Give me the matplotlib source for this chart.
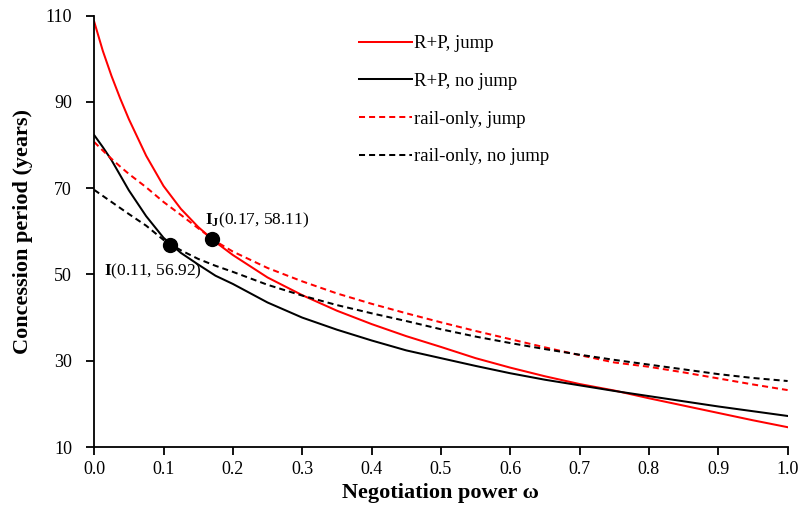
import matplotlib
matplotlib.use("Agg")
import matplotlib.pyplot as plt
import numpy as np

plt.rcParams['font.family'] = ['Liberation Serif', 'DejaVu Serif']
plt.rcParams['mathtext.fontset'] = 'custom'
plt.rcParams['mathtext.rm'] = 'Liberation Serif'
plt.rcParams['mathtext.bf'] = 'Liberation Serif:bold'

omega = [0.0, 0.0125, 0.025, 0.0375, 0.05, 0.075, 0.10, 0.125, 0.15, 0.175, 0.20, 0.25, 0.30,
         0.35, 0.40, 0.45, 0.50, 0.55, 0.60, 0.65, 0.70, 0.75, 0.80, 0.85,
         0.90, 0.95, 1.00]

rp_jump = [108.6, 101.8, 96.0, 90.8, 86.0, 77.5, 70.5, 65.2, 61.0, 57.5, 54.5, 49.3, 45.2,
           41.6, 38.5, 35.7, 33.2, 30.6, 28.4, 26.4, 24.6, 23.1, 21.3, 19.6,
           17.9, 16.2, 14.6]
rp_nojump = [82.3, 79.5, 76.5, 73.0, 69.5, 63.5, 58.5, 55.0, 52.3, 49.7, 47.8, 43.5, 40.0,
             37.2, 34.7, 32.4, 30.6, 28.8, 27.1, 25.6, 24.3, 23.0, 21.8, 20.6,
             19.4, 18.3, 17.2]
rail_jump = [80.7, 78.7, 76.8, 75.0, 73.3, 70.2, 66.8, 63.8, 60.7, 57.7, 55.3, 51.5, 48.4,
             45.6, 43.2, 41.0, 38.9, 36.9, 35.0, 33.1, 31.3, 29.6, 28.6, 27.3,
             25.9, 24.5, 23.2]
rail_nojump = [69.6, 68.2, 66.8, 65.4, 64.0, 61.3, 58.0, 55.6, 53.6, 52.0, 50.6, 47.6, 45.1,
               42.9, 41.0, 39.2, 37.3, 35.6, 34.1, 32.7, 31.4, 30.2, 29.1, 28.0,
               26.9, 26.0, 25.3]

points_x = [0.11, 0.17]
points_y = [56.92, 58.11]

xticks = [0.0, 0.1, 0.2, 0.3, 0.4, 0.5, 0.6, 0.7, 0.8, 0.9, 1.0]
yticks = [10, 30, 50, 70, 90, 110]

fig = plt.figure(figsize=(7.98, 5.18), dpi=100)
ax = fig.add_axes([0.118, 0.137, 0.869, 0.833])

lw = 1.45
ax.plot(omega, rp_jump, color='#ff0000', lw=lw, label='R+P, jump')
ax.plot(omega, rp_nojump, color='black', lw=lw, label='R+P, no jump')
ax.plot(omega, rail_jump, color='#ff0000', lw=lw, ls=(0, (3, 2)), label='rail-only, jump')
ax.plot(omega, rail_nojump, color='black', lw=lw, ls=(0, (3, 2)), label='rail-only, no jump')

ax.plot(points_x, points_y, 'o', color='black', ms=10, zorder=5)

ax.text(0.014, 50.6, r'$\mathbf{I}$(0.11, 56.92)', fontsize=12.5, ha='left', va='center')
ax.text(0.160, 62.6, r'$\mathbf{I_J}$(0.17, 58.11)', fontsize=12.5, ha='left', va='center')

ax.set_xlim(0, 1)
ax.set_ylim(10, 110)
ax.set_xticks(xticks)
ax.set_xticklabels([f'{t:.1f}' for t in xticks])
ax.set_yticks(yticks)
ax.tick_params(axis='both', direction='out', length=6, width=1.3, labelsize=13, colors='black')
ax.tick_params(axis='x', pad=4)
ax.tick_params(axis='y', pad=10)
for s in ['top', 'right']:
    ax.spines[s].set_visible(False)
for s in ['left', 'bottom']:
    ax.spines[s].set_linewidth(1.3)

ax.set_xlabel('Negotiation power ω', fontsize=16, fontweight='bold', labelpad=4)
ax.set_ylabel('Concession period (years)', fontsize=16, fontweight='bold', labelpad=9)

leg = ax.legend(loc='upper left', bbox_to_anchor=(359/798, 1 - 35/518),
                bbox_transform=fig.transFigure, frameon=False, fontsize=13.5,
                handlelength=2.8, handletextpad=0.15, labelspacing=1.1,
                borderpad=0, borderaxespad=0)

fig.savefig('out.png', dpi=100)
